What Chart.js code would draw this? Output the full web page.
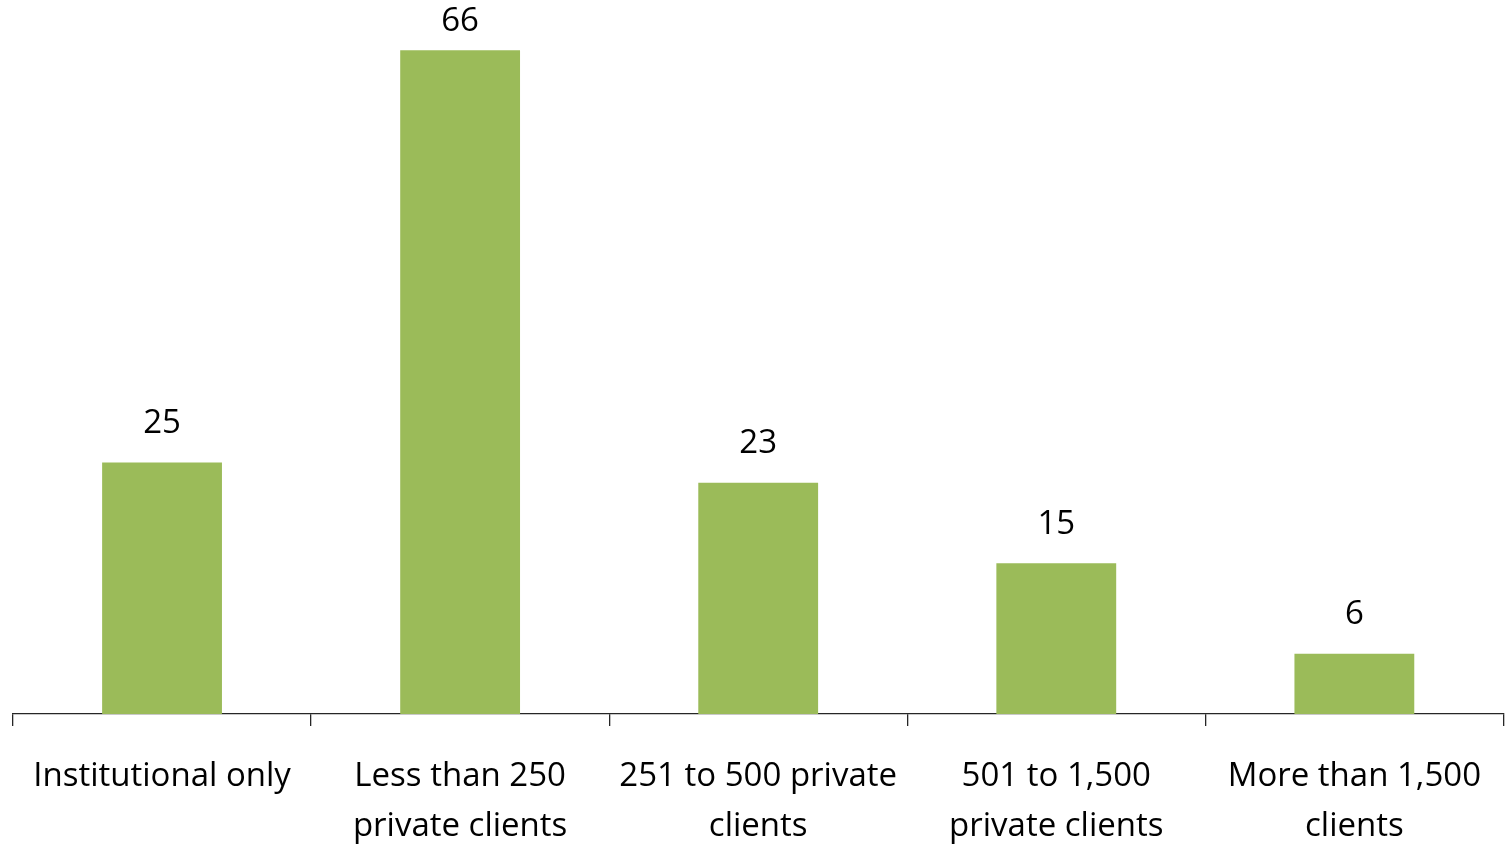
<!DOCTYPE html>
<html>
<head>
<meta charset="utf-8">
<script src="https://cdn.jsdelivr.net/npm/chart.js@4/dist/chart.umd.min.js"></script>
<style>
  html, body { margin: 0; padding: 0; background: #fff; }
  #wrap { width: 1507px; height: 844px; }
</style>
</head>
<body>
<div id="wrap"><canvas id="clientsChart" width="1507" height="844"></canvas></div>
<script>
const categories = [
    ['Institutional only'],
    ['Less than 250', 'private clients'],
    ['251 to 500 private', 'clients'],
    ['501 to 1,500', 'private clients'],
    ['More than 1,500', 'clients']
];
const counts = [25, 66, 23, 15, 6];

const labelFont = { family: '"Open Sans", Lato, sans-serif', size: 33 };

// writes each count above its bar
const valueLabels = {
    id: 'valueLabels',
    afterDatasetsDraw(chart) {
        const ctx = chart.ctx;
        const meta = chart.getDatasetMeta(0);
        ctx.save();
        ctx.font = labelFont.size + 'px ' + labelFont.family;
        ctx.fillStyle = '#000';
        ctx.textAlign = 'center';
        ctx.textBaseline = 'middle';
        meta.data.forEach(function (bar, i) {
            const y = Math.max(bar.y - 39, 22);
            ctx.fillText(String(counts[i]), bar.x, y);
        });
        ctx.restore();
    }
};

new Chart(document.getElementById('clientsChart'), {
    type: 'bar',
    data: {
        labels: categories,
        datasets: [{
            data: counts,
            backgroundColor: '#9BBB59',
            borderWidth: 0,
            categoryPercentage: 1,
            barPercentage: 0.402
        }]
    },
    options: {
        responsive: false,
        animation: false,
        layout: { padding: { left: 13, right: 0, top: 0, bottom: -34 } },
        plugins: {
            legend: { display: false },
            tooltip: { enabled: false }
        },
        scales: {
            y: {
                display: false,
                min: 0,
                max: 71
            },
            x: {
                grid: {
                    display: true,
                    drawOnChartArea: false,
                    offset: true,
                    tickLength: 12,
                    color: '#262626',
                    lineWidth: 1.3
                },
                border: { display: true, color: '#262626', width: 1.3 },
                ticks: {
                    color: '#000',
                    font: { family: labelFont.family, size: labelFont.size, lineHeight: 1.515 },
                    padding: 26,
                    maxRotation: 0,
                    autoSkip: false
                }
            }
        }
    },
    plugins: [valueLabels]
});
</script>
</body>
</html>
